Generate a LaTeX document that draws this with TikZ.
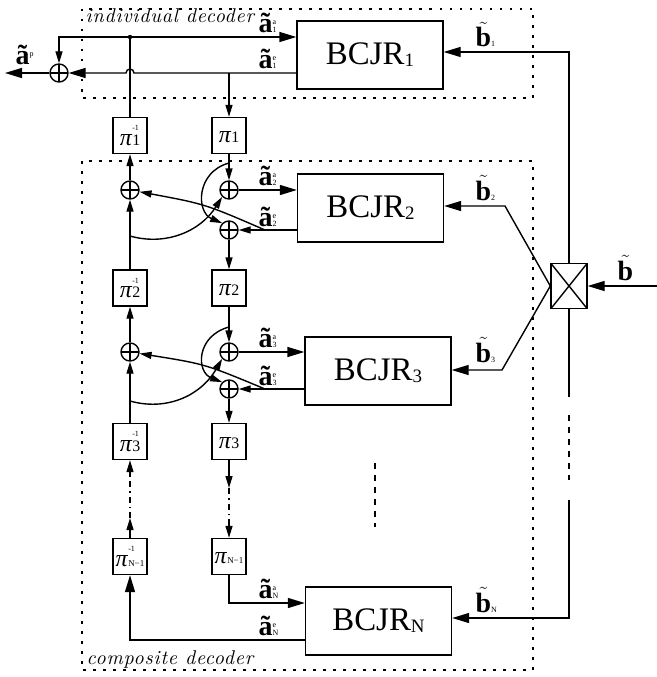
\documentclass[tikz,border=0pt]{standalone}
\usepackage{amsmath}
\usepackage{fontspec}
\newfontfamily\timesfont{Liberation Serif}
\newfontfamily\titlefont[LetterSpace=4]{lmroman10-italic.otf}
\usetikzlibrary{arrows.meta, shapes, positioning, calc}
\tikzset{
   mybcjr/.style={draw, minimum width=146bp, minimum height=68bp, inner sep=0pt, font=\timesfont\fontsize{33}{33}\selectfont},
   mypi/.style={draw, minimum width=34bp, minimum height=36bp, inner sep=0pt, font=\timesfont\fontsize{24}{24}\selectfont},
   mysum/.style={draw, circle, minimum size=18bp, inner sep=0pt,
      path picture={\draw (path picture bounding box.north) -- (path picture bounding box.south)
                           (path picture bounding box.west) -- (path picture bounding box.east);}},
   myilv/.style={draw, minimum width=36bp, minimum height=45bp, inner sep=0pt,
      path picture={\draw (path picture bounding box.north west) -- (path picture bounding box.south east)
                           (path picture bounding box.south west) -- (path picture bounding box.north east);}},
   myframe/.style={line width=1.2bp, dash pattern=on 2.5bp off 7.5bp},
   mytitle/.style={font=\titlefont\fontsize{20}{20}\selectfont, inner sep=0pt},
   mylab/.style={font=\timesfont\fontsize{28}{28}\selectfont, inner sep=0pt},
   mydots/.style={dash pattern=on 6bp off 6bp},
   mydashdot/.style={dash pattern=on 6bp off 4bp on 1.5bp off 4bp},
   mysmall/.style={-{Triangle[length=12bp,width=7bp]}}
}
\newcommand{\bcjr}[1]{BCJR\raisebox{-2bp}{\fontsize{19}{19}\selectfont #1}}
\newcommand{\asig}[2]{\textbf{ã}\makebox[0pt][l]{\raisebox{8bp}{\fontsize{8}{8}\selectfont #1}}{\fontsize{8}{8}\selectfont #2}}
\newcommand{\bsig}[1]{$\tilde{\text{\bfseries b}}${\fontsize{8}{8}\selectfont #1}}
\newcommand{\piv}[3]{\textit{π}\makebox[0pt][l]{\raisebox{14.5bp}{\fontsize{8}{8}\selectfont #1}}{\fontsize{#3}{#3}\selectfont #2}}

\begin{document}
\begin{tikzpicture}[x=1bp,y=-1bp,line width=1.4bp,>={Triangle[length=17bp,width=10bp]}]
   \useasboundingbox (0,0) rectangle (657,677);
   % frames
   \draw[myframe] (82,9) rectangle (533,98);
   \draw[myframe] (82,161) rectangle (533,670);
   \node[mytitle, anchor=base west] (indiv) at (85,23) {individual decoder};
   \node[mytitle, anchor=base west] (comp) at (86,664) {composite decoder};

   % decoders
   \node[mybcjr] (bcjrA) at (370,55) {\bcjr{1}};
   \node[mybcjr] (bcjrB) at (370.5,208) {\bcjr{2}};
   \node[mybcjr] (bcjrC) at (378,371) {\bcjr{3}};
   \node[mybcjr] (bcjrN) at (378.5,621) {\bcjr{N}};

   % interleavers
   \node[mypi] (piA) at (229,135.5) {\piv{}{1}{16}};
   \node[mypi] (piB) at (229,288) {\piv{}{2}{16}};
   \node[mypi] (piC) at (229,441.5) {\piv{}{3}{16}};
   \node[mypi] (piM) at (229,556.5) {\piv{}{N−1}{9}};
   \node[mypi] (piinvA) at (130,135.5) {\piv{-1}{1}{16}};
   \node[mypi] (piinvB) at (130,288) {\piv{-1}{2}{16}};
   \node[mypi] (piinvC) at (130,441.5) {\piv{-1}{3}{16}};
   \node[mypi] (piinvM) at (130,556.5) {\piv{-1}{N−1}{9}};

   % adders
   \node[mysum] (sumP) at (59,73) {};
   \node[mysum] (sumB) at (229,190) {};
   \node[mysum] (sumBe) at (229,230) {};
   \node[mysum] (sumBl) at (130,190) {};
   \node[mysum] (sumC) at (229,352) {};
   \node[mysum] (sumCe) at (229,389) {};
   \node[mysum] (sumCl) at (130,352) {};

   % channel demux
   \node[myilv] (ilv) at (569,286) {};

   % individual decoder
   \coordinate (dotA) at (130,37);
   \coordinate (brA) at (229,73);
   \coordinate (outP) at (5,73);
   \draw[->] (dotA) -- (bcjrA.west |- dotA);
   \draw[mysmall] (dotA) -| (sumP);
   \fill (dotA) circle (2.2bp);
   \draw (piinvA) -- (dotA);
   \draw[->] (bcjrA.west |- sumP) -- (134,73) arc (0:-180:4) -- (sumP);
   \draw[->] (sumP) -- (outP);
   \draw[mysmall] (brA) -- (piA);

   % stage 2
   \draw[mysmall] (piA) -- (sumB);
   \draw[->] (sumB) -- (bcjrB.west |- sumB);
   \draw[mysmall] (bcjrB.west |- sumBe) -- (sumBe);
   \draw[mysmall] (sumBe) -- (piB);
   \draw[mysmall] (piinvB) -- (sumBl);
   \draw[mysmall] (sumBl) -- (piinvA);
   \coordinate (arcB) at (229,163);
   \coordinate (tapB) at (265,230);
   \coordinate (loopB) at (130,236);
   \draw[mysmall] (arcB) .. controls (196,172) and (196,212) .. (sumBe.north west);
   \draw[mysmall] (tapB) .. controls (205,204) .. (sumBl);
   \draw[mysmall] (loopB) .. controls (165,246) and (200,232) .. (sumB.south west);

   % stage 3
   \draw[mysmall] (piB) -- (sumC);
   \draw[->] (sumC) -- (bcjrC.west |- sumC);
   \draw[mysmall] (bcjrC.west |- sumCe) -- (sumCe);
   \draw[mysmall] (sumCe) -- (piC);
   \draw[mysmall] (piinvC) -- (sumCl);
   \draw[mysmall] (sumCl) -- (piinvB);
   \coordinate (arcC) at (229,327);
   \coordinate (tapC) at (265,389);
   \coordinate (loopC) at (130,401);
   \draw[mysmall] (arcC) .. controls (196,336) and (196,372) .. (sumCe.north west);
   \draw[mysmall] (tapC) .. controls (205,364) .. (sumCl);
   \draw[mysmall] (loopC) .. controls (165,411) and (200,397) .. (sumC.south west);

   % omitted stages
   \coordinate (ddA) at (229,488);
   \coordinate (ddB) at (229,522);
   \coordinate (ddC) at (130,518);
   \coordinate (ddD) at (130,476);
   \draw[mysmall] (piC) -- (ddA);
   \draw[mydashdot] (ddA) -- (ddB);
   \draw[mysmall] (ddB) -- (piM);
   \draw[mysmall] (piinvM) -- (ddC);
   \draw[mydashdot] (ddC) -- (ddD);
   \draw[mysmall] (ddD) -- (piinvC);
   \coordinate (vdA) at (375,463);
   \coordinate (vdB) at (375,527);
   \draw[mydots] (vdA) -- (vdB);

   % stage N
   \coordinate (aN) at (229,603);
   \coordinate (eN) at (130,640);
   \draw[->] (piM) -- (aN) -- (bcjrN.west |- aN);
   \draw[->] (bcjrN.west |- eN) -- (eN) -- (piinvM);

   % channel values
   \coordinate (inB) at (657,286);
   \coordinate (tapA) at (569,52);
   \coordinate (kinkB) at (505,206);
   \coordinate (kinkC) at (502,370);
   \coordinate (gapA) at (569,397);
   \coordinate (gapB) at (569,415);
   \coordinate (gapC) at (569,480);
   \coordinate (gapD) at (569,500);
   \coordinate (tapN) at (569,618);
   \draw[->] (inB) -- (ilv);
   \draw[->] (ilv.north) -- (tapA) -- (bcjrA.east |- tapA);
   \draw[->] (ilv.west) -- (kinkB) -- (bcjrB.east |- kinkB);
   \draw[->] (ilv.west) -- (kinkC) -- (bcjrC.east |- kinkC);
   \draw (ilv.south) -- (gapA);
   \draw[mydots] (gapB) -- (gapC);
   \draw[->] (gapD) -- (tapN) -- (bcjrN.east |- tapN);

   % labels
   \node[mylab, anchor=base west] (lAa) at (258,33) {\asig{a}{1}};
   \node[mylab, anchor=base west] (lAe) at (258,69) {\asig{e}{1}};
   \node[mylab, anchor=base west] (lBa) at (258,185) {\asig{a}{2}};
   \node[mylab, anchor=base west] (lBe) at (258,226) {\asig{e}{2}};
   \node[mylab, anchor=base west] (lCa) at (258,347) {\asig{a}{3}};
   \node[mylab, anchor=base west] (lCe) at (258,385) {\asig{e}{3}};
   \node[mylab, anchor=base west] (lNa) at (258,598) {\asig{a}{N}};
   \node[mylab, anchor=base west] (lNe) at (258,635) {\asig{e}{N}};
   \node[mylab, anchor=base west] (lP) at (15,65) {\textbf{ã}{\fontsize{8}{8}\selectfont\raisebox{8bp}{p}}};
   \node[mylab, anchor=base west] (lbA) at (475,47) {\bsig{1}};
   \node[mylab, anchor=base west] (lbB) at (475,200) {\bsig{2}};
   \node[mylab, anchor=base west] (lbC) at (475,362) {\bsig{3}};
   \node[mylab, anchor=base west] (lbN) at (475,612) {\bsig{N}};
   \node[mylab, anchor=base west] (lb) at (617,280) {$\tilde{\text{\bfseries b}}$};
\end{tikzpicture}
\end{document}
